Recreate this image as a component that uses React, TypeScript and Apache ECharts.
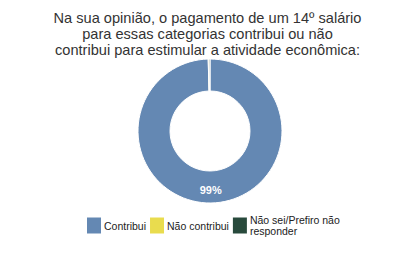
import React, { useEffect, useRef } from "react";
import * as echarts from "echarts";

const titleLines = [
  "Na sua opinião, o pagamento de um 14º salário",
  "para essas categorias contribui ou não",
  "contribui para estimular a atividade econômica:",
];
const categories = ["Contribui", "Não contribui", "Não sei/Prefiro não\nresponder"];
const values = [99.6, 0.2, 0.2];
const labels = ["99%", "", ""];
const colors = ["#6488b3", "#e9dc4e", "#284a3c"];

export default function App() {
  const ref = useRef<HTMLDivElement>(null);
  useEffect(() => {
    const chart = echarts.init(ref.current!, undefined, { renderer: "svg" });
    chart.setOption({
      animation: false,
      title: {
        text: titleLines.join("\n"),
        left: "center",
        top: 5,
        textStyle: {
          fontFamily: "Liberation Sans, Arial",
          fontSize: 14.6,
          fontWeight: "normal",
          color: "#333",
          lineHeight: 16,
        },
      },
      legend: {
        bottom: 25,
        left: 85,
        padding: 0,
        itemWidth: 16,
        itemHeight: 18,
        itemGap: 2,
        icon: "rect",
        selectedMode: false,
        data: categories,
        textStyle: {
          fontFamily: "Liberation Sans, Arial",
          fontSize: 10.5,
          color: "#222",
          lineHeight: 11.5,
          padding: [0, 0, 0, -3],
        },
      },
      series: [
        {
          type: "pie",
          center: [210, 131],
          radius: [40, 72],
          startAngle: 90,
          clockwise: true,
          itemStyle: { borderColor: "#fff", borderWidth: 1 },
          label: {
            show: true,
            position: "inside",
            formatter: (p: any) => labels[p.dataIndex],
            color: "#fff",
            fontFamily: "Liberation Sans, Arial",
            fontSize: 11,
            fontWeight: "bold",
          },
          labelLine: { show: false },
          data: categories.map((c, i) => ({
            name: c,
            value: values[i],
            itemStyle: { color: colors[i] },
          })),
        },
      ],
    });
    return () => chart.dispose();
  }, []);
  return <div ref={ref} style={{ width: 415, height: 262, position: "absolute", left: 0, top: 0 }} />;
}
